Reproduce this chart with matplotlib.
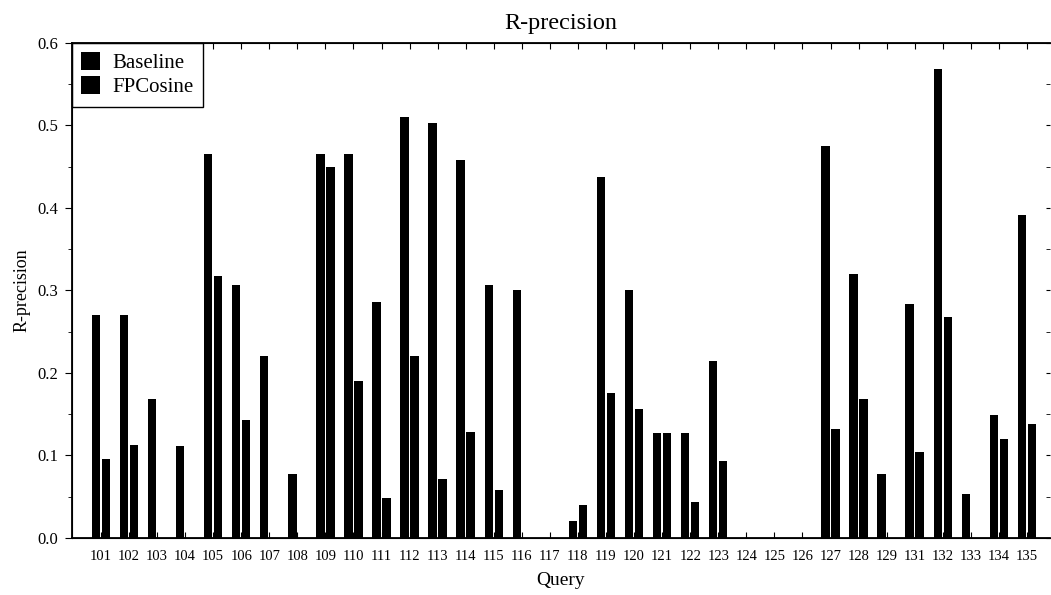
import numpy as np
import matplotlib
matplotlib.use("Agg")
import matplotlib.pyplot as plt
from matplotlib.ticker import MultipleLocator

plt.rcParams['font.family'] = ['Liberation Serif', 'DejaVu Serif']

# query ids (130 is not in the chart)
queries = ['101', '102', '103', '104', '105', '106', '107', '108', '109', '110',
           '111', '112', '113', '114', '115', '116', '117', '118', '119', '120',
           '121', '122', '123', '124', '125', '126', '127', '128', '129', '131',
           '132', '133', '134', '135']

baseline = [0.270, 0.270, 0.168, 0.112, 0.465, 0.307, 0.220, 0.078, 0.465, 0.465,
            0.286, 0.510, 0.503, 0.458, 0.307, 0.301, 0.0, 0.021, 0.437, 0.300,
            0.127, 0.127, 0.215, 0.0, 0.0, 0.0, 0.475, 0.320, 0.078, 0.284,
            0.568, 0.053, 0.149, 0.392]

fpcosine = [0.096, 0.113, 0.0, 0.0, 0.318, 0.143, 0.0, 0.0, 0.450, 0.190,
            0.049, 0.221, 0.072, 0.129, 0.058, 0.0, 0.0, 0.040, 0.176, 0.156,
            0.127, 0.044, 0.093, 0.0, 0.0, 0.0, 0.132, 0.168, 0.0, 0.104,
            0.268, 0.0, 0.120, 0.138]

yticks = [0.0, 0.1, 0.2, 0.3, 0.4, 0.5, 0.6]

x = np.arange(len(queries))
w = 0.30
off = 0.178

fig = plt.figure(figsize=(10.51, 5.95), dpi=100)
ax = fig.add_axes([0.0685, 0.0958, 0.9305, 0.832])

ax.bar(x - off, baseline, width=w, color='black', label='Baseline')
ax.bar(x + off, fpcosine, width=w, color='black', label='FPCosine')

ax.set_xlim(-1.03, 33.82)
ax.set_ylim(0, 0.6)
ax.set_xticks(x)
ax.set_xticklabels(queries, fontsize=10.5)
ax.set_yticks(yticks)
ax.set_yticklabels(['%.1f' % v for v in yticks], fontsize=12)
ax.yaxis.set_minor_locator(MultipleLocator(0.05))

ax.tick_params(axis='x', direction='in', length=4, top=True, bottom=True, pad=9)
ax.tick_params(axis='y', which='major', direction='out', length=5, right=False, pad=5)
ax.tick_params(axis='y', which='minor', direction='out', length=3)

# inward ticks on the right edge
ax2 = ax.twinx()
ax2.set_ylim(0, 0.6)
ax2.yaxis.set_major_locator(MultipleLocator(0.1))
ax2.yaxis.set_minor_locator(MultipleLocator(0.05))
ax2.tick_params(axis='y', which='both', direction='in', length=3, labelright=False)
ax2.spines['right'].set_visible(False)

for s in ax.spines.values():
    s.set_linewidth(1.3)
ax.spines['right'].set_visible(False)

ax.set_title('R-precision', fontsize=17.5, pad=10)
ax.set_xlabel('Query', fontsize=14, labelpad=6)
ax.set_ylabel('R-precision', fontsize=13, labelpad=5)

leg = ax.legend(loc='upper left', fontsize=15, frameon=True, fancybox=False,
                borderaxespad=0, handlelength=0.9, handleheight=0.9,
                handletextpad=0.6, labelspacing=0.15, borderpad=0.45)
leg.get_frame().set_edgecolor('black')
leg.get_frame().set_linewidth(1.0)
leg.get_frame().set_alpha(1)

fig.savefig('out.png', dpi=100)
